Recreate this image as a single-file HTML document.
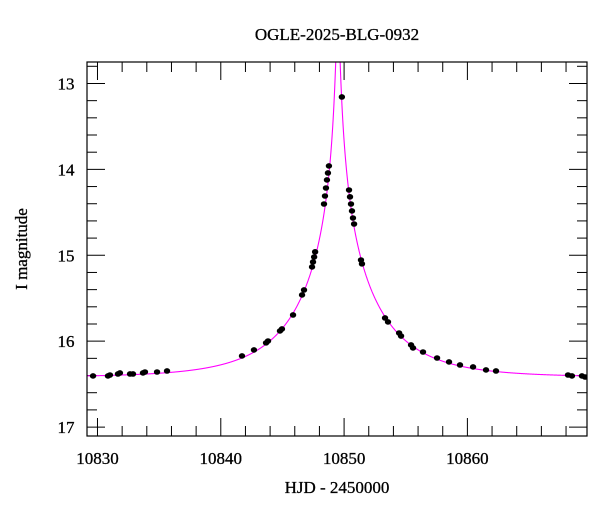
<!DOCTYPE html>
<html><head><meta charset="utf-8"><style>
body{margin:0;background:#fff}
svg text{font-family:"Liberation Serif",serif;fill:#000;stroke:#000;stroke-width:0.3}
</style></head><body>
<svg id="chart" width="600" height="512" xmlns="http://www.w3.org/2000/svg">
<text x="337" y="40" text-anchor="middle" font-size="17">OGLE-2025-BLG-0932</text>
<text transform="translate(27,249) rotate(-90)" text-anchor="middle" font-size="17">I magnitude</text>
<text x="337" y="493" text-anchor="middle" font-size="17">HJD - 2450000</text>
<g id="ticks"></g>
<g id="model"></g>
<g id="pts"></g>
<rect x="87" y="62" width="500" height="374" fill="none" stroke="#000" stroke-width="1.2"/>
</svg>
<script>
const xTickLabels=[10830,10840,10850,10860];
const yTickLabels=[13,14,15,16,17];
const obsTimes=[10829.64,10830.85,10831.01,10831.66,10831.82,10832.64,10832.88,10833.69,10833.85,10834.83,10835.64,
10841.72,10842.69,10843.67,10843.83,10844.80,10844.96,10845.86,10846.59,10846.75,
10847.40,10847.48,10847.57,10847.65,
10848.37,10848.45,10848.53,10848.61,10848.69,10848.77,
10849.82,
10850.40,10850.48,10850.56,10850.64,10850.72,10850.81,
10851.37,10851.45,
10853.32,10853.56,10854.46,10854.62,10855.43,10855.59,10856.40,10857.54,10858.51,10859.40,10860.46,10861.51,10862.32,
10868.16,10868.48,10869.29,10869.54];
const obsMags=[16.405,16.405,16.394,16.382,16.37,16.382,16.382,16.37,16.359,16.359,16.347,
16.172,16.102,16.02,15.998,15.881,15.858,15.695,15.462,15.404,
15.136,15.078,15.02,14.96,
14.403,14.31,14.217,14.123,14.042,13.96,
13.157,
14.24,14.32,14.403,14.484,14.566,14.636,
15.055,15.10,
15.73,15.776,15.905,15.94,16.044,16.079,16.126,16.196,16.242,16.277,16.3,16.335,16.347,
16.394,16.405,16.405,16.417];
const modelT0=10849.5, modelTE=6.5, modelU0=0.02, modelBase=16.42;

const X0=87,X1=587,Y0=62,Y1=436;
const tMin=10829.15, tMax=10869.70, mMin=12.75, mMax=17.104;
const sx=t=>X0+(t-tMin)/(tMax-tMin)*(X1-X0);
const sy=m=>Y0+(m-mMin)/(mMax-mMin)*(Y1-Y0);
const NS="http://www.w3.org/2000/svg";
function mk(tag,attrs,parent){const e=document.createElementNS(NS,tag);for(const k in attrs)e.setAttribute(k,attrs[k]);parent.appendChild(e);return e;}
const tg=document.getElementById('ticks');
for(let t=10830;t<=10870;t+=2){
  const x=sx(t); if(x>X1)break;
  const major=(t%10===0), L=major?18:10;
  const a=mk('line',{x1:x,y1:Y1,x2:x,y2:Y1-L,stroke:'#000','stroke-width':1},tg);
  
  
  const b=mk('line',{x1:x,y1:Y0,x2:x,y2:Y0+L,stroke:'#000','stroke-width':1},tg);
  
  
}
for(let i=0;i<=21;i++){
  const m=12.8+i*0.2, y=sy(m); if(y>Y1)break;
  const major=Math.abs(m-Math.round(m))<1e-6, L=major?18:10;
  const a=mk('line',{x1:X0,y1:y,x2:X0+L,y2:y,stroke:'#000','stroke-width':1},tg);
  
  
  const b=mk('line',{x1:X1,y1:y,x2:X1-L,y2:y,stroke:'#000','stroke-width':1},tg);
  
  
}
xTickLabels.forEach(v=>{
  const e=mk('text',{x:sx(v),y:464,'text-anchor':'middle','font-size':17},tg);
  e.textContent=v;
  
  
});
yTickLabels.forEach(v=>{
  const e=mk('text',{x:66,y:sy(v)+6,'text-anchor':'middle','font-size':17},tg);
  e.textContent=v;
  
  
});
function modelMag(t){const tau=(t-modelT0)/modelTE;const u=Math.sqrt(tau*tau+modelU0*modelU0);const A=(u*u+2)/(u*Math.sqrt(u*u+4));return modelBase-2.5*Math.log10(A);}
let d='';
for(let t=tMin;t<=tMax;t+=0.01){const m=Math.max(modelMag(t),12.6);d+=(d?'L':'M')+sx(t).toFixed(2)+','+sy(m).toFixed(2);}
const cp=mk('clipPath',{id:'clip'},document.getElementById('chart'));
mk('rect',{x:X0,y:Y0,width:X1-X0,height:Y1-Y0},cp);
const mg=document.getElementById('model');
mg.setAttribute('clip-path','url(#clip)');
const path=mk('path',{d:d,fill:'none',stroke:'#ff00ff','stroke-width':1.1},mg);


const pg=document.getElementById('pts');
pg.setAttribute('clip-path','url(#clip)');
obsTimes.forEach((t,i)=>{
  const c=mk('ellipse',{cx:sx(t),cy:sy(obsMags[i]),rx:3.2,ry:2.8,fill:'#000'},pg);
  
  
});
</script>
</body></html>
